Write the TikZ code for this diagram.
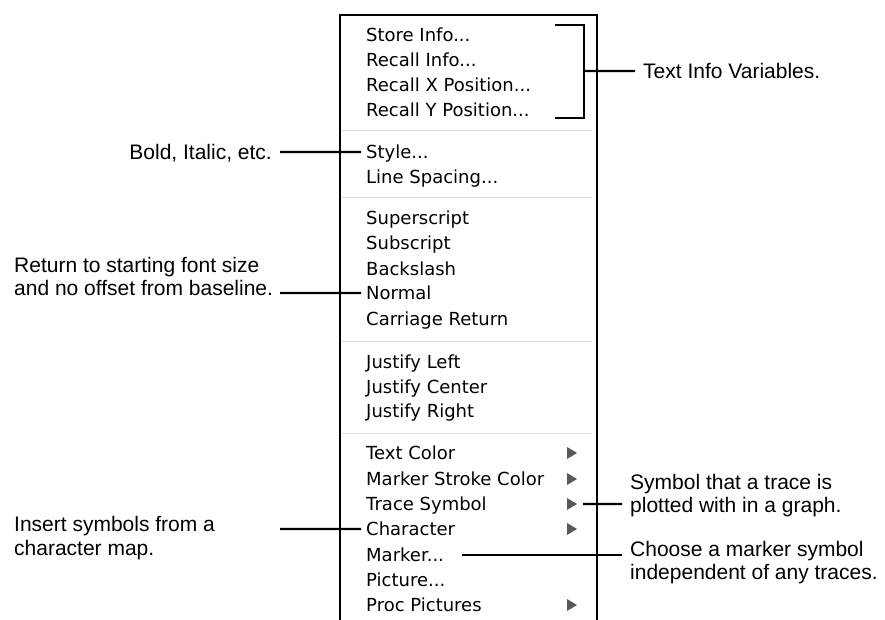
\documentclass[tikz,border=0pt]{standalone}
\usepackage{fontspec}
\setmainfont{Liberation Sans}
\newfontfamily\menufont{DejaVu Sans}
\usetikzlibrary{positioning}

\tikzset{
  item/.style={anchor=west, inner xsep=5pt, inner ysep=0pt, text height=13pt, text depth=0pt,
    font=\menufont\fontsize{18}{20}\selectfont},
  note/.style={inner xsep=8pt, inner ysep=0pt, align=left, font=\fontsize{21}{23.5}\selectfont},
  wire/.style={line width=2.2pt},
  sep/.style={line width=1pt, color=black!12},
  tri/.style={fill=black!65}
}

\begin{document}
\begin{tikzpicture}[x=1pt, y=-1pt]
          \useasboundingbox (0,0) rectangle (885,620);

          \node[item] (store) at (361,35) {Store Info...};
          \node[item] (recinfo) at (361,60) {Recall Info...};
          \node[item] (recx) at (361,85) {Recall X Position...};
          \node[item] (recy) at (361,110) {Recall Y Position...};
          \node[item] (style) at (361,152) {Style...};
          \node[item] (spacing) at (361,177) {Line Spacing...};
          \node[item] (sup) at (361,218) {Superscript};
          \node[item] (sub) at (361,243) {Subscript};
          \node[item] (bslash) at (361,269) {Backslash};
          \node[item] (normal) at (361,293) {Normal};
          \node[item] (cret) at (361,319) {Carriage Return};
          \node[item] (jleft) at (361,362) {Justify Left};
          \node[item] (jcenter) at (361,387) {Justify Center};
          \node[item] (jright) at (361,411) {Justify Right};
          \node[item] (tcolor) at (361,453) {Text Color};
          \node[item] (mstroke) at (361,479) {Marker Stroke Color};
          \node[item] (trace) at (361,504) {Trace Symbol};
          \node[item] (char) at (361,529) {Character};
          \node[item] (marker) at (361,555) {Marker...};
          \node[item] (picture) at (361,580) {Picture...};
          \node[item] (proc) at (361,605) {Proc Pictures};

          \node[note, anchor=base west] (tinfo) at (635,78.5) {Text Info Variables.};
          \node[note, anchor=base east] (bold) at (280,159.5) {Bold, Italic, etc.};
          \node[note, anchor=base west] (ret) at (6,295.5) {Return to starting font size\\and no offset from baseline.};
          \node[note, anchor=base west] (ins) at (6,555) {Insert symbols from a\\character map.};
          \node[note, anchor=base west] (sym) at (622,512.5) {Symbol that a trace is\\plotted with in a graph.};
          \node[note, anchor=base west] (choose) at (622,579.5) {Choose a marker symbol\\independent of any traces.};

          \coordinate (lx) at (280,0);
          \coordinate (tx) at (567,0);
          \coordinate (rx) at (583,0);
          \coordinate (nx) at (622,0);

          \foreach \y in {131,198,341,433}
            \draw[sep] (341,\y) -- (592,\y);
          \foreach \n in {tcolor,mstroke,trace,char,proc}
            \fill[tri] (tx |- \n.west) ++(0,-6) -- ++(10,6) -- ++(-10,6) -- cycle;

          \draw[wire] (340,620) -- (340,15) -- (597,15) -- (597,620);
          \draw[wire] (555,25) -- (584,25) -- (584,118) -- (555,118);

          \draw[wire]
          (584,71) -- (tinfo.west)
          (lx |- style.west) -- (style.west)
          (lx |- normal.west) -- (normal.west)
          (lx |- char.west) -- (char.west)
          (rx |- trace.west) -- (nx |- trace.west);
          \draw[wire, shorten <=13pt] (marker.east) -- (nx |- marker.east);
        \end{tikzpicture}
\end{document}
